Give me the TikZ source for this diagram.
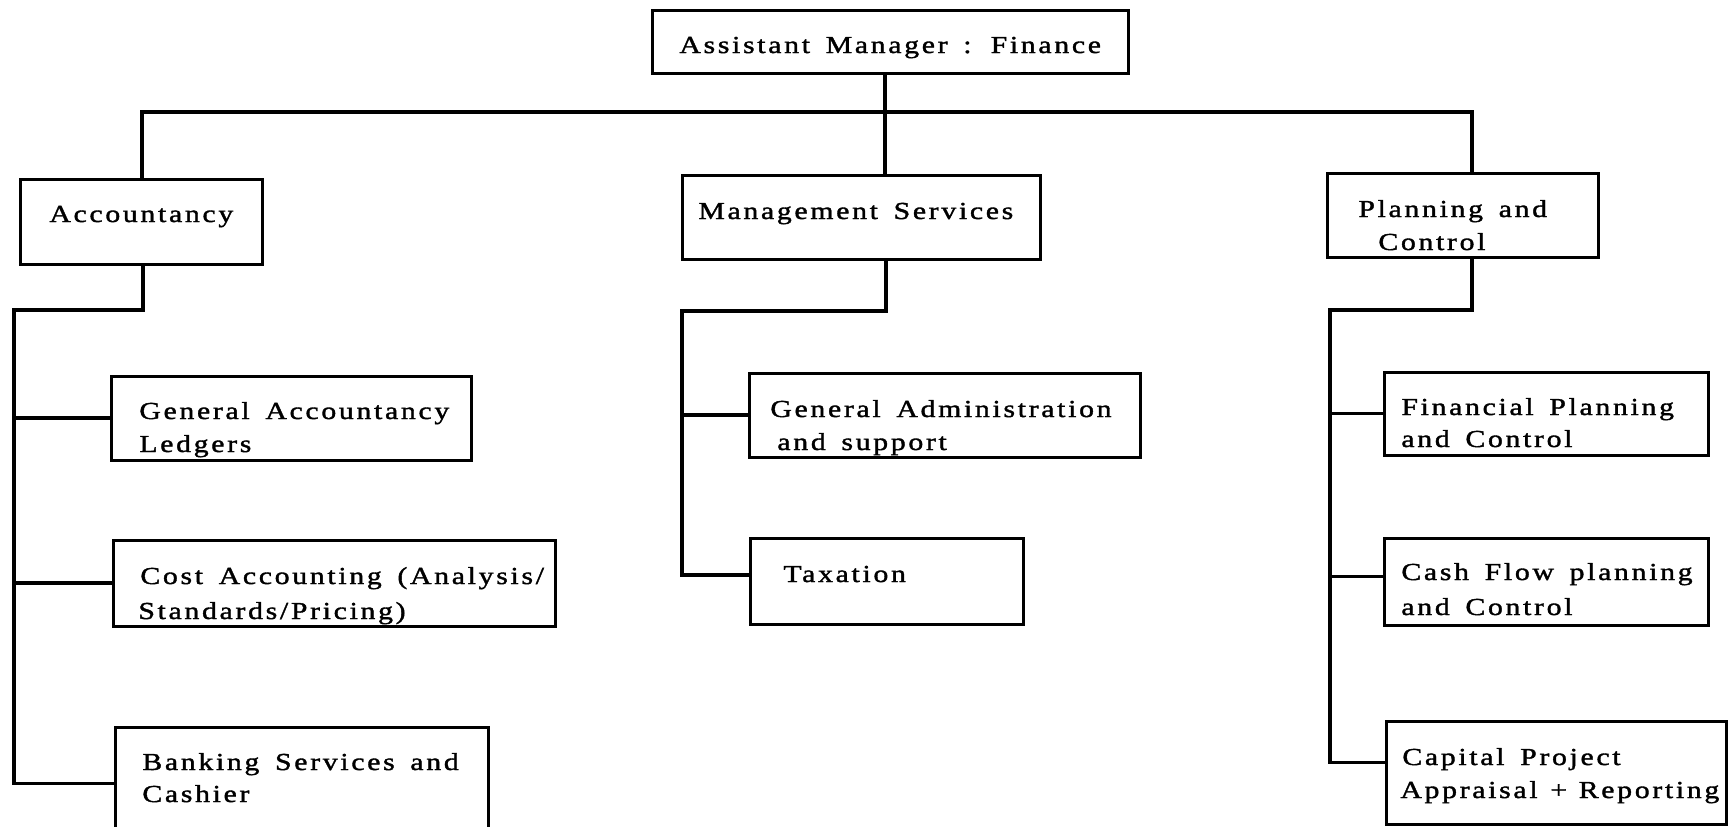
\documentclass[tikz,border=0pt]{standalone}
\usepackage{fontspec}
\setmainfont{Liberation Serif}[FakeStretch=1.22, LetterSpace=11, WordSpace=1.55, FakeBold=1.5]
\usetikzlibrary{calc}

\tikzset{
  box/.style={draw, line width=1.5pt, inner sep=0pt, rectangle},
  link/.style={line width=1.7pt, line join=miter},
  txt/.style={inner sep=0pt, anchor=base west, font=\fontsize{12.2pt}{16pt}\selectfont},
}

% box spanning pixel corners (x1,y1)-(x2,y2)
\newcommand\orgbox[5]{%
  \node[box, minimum width={(#4-#2)*0.5pt}, minimum height={(#5-#3)*0.5pt}]
    (#1) at ({(#2+#4)/2},{(#3+#5)/2}) {};}

\begin{document}
\begin{tikzpicture}[x=0.5pt, y=-0.5pt]
\useasboundingbox (0,0) rectangle (1731,826);
\clip (0,0) rectangle (1731,826);

% boxes
\orgbox{mgr}{652}{10}{1128}{73}
\orgbox{acc}{20}{179}{262}{264}
\orgbox{mgs}{682}{175}{1040}{259}
\orgbox{pac}{1327}{173}{1598}{257}
\orgbox{gal}{111}{376}{471}{460}
\orgbox{cost}{113}{540}{555}{626}
\orgbox{ban}{115}{727}{488}{840}
\orgbox{gad}{749}{373}{1140}{457}
\orgbox{tax}{750}{538}{1023}{624}
\orgbox{fpc}{1384}{372}{1708}{455}
\orgbox{cfp}{1384}{538}{1708}{625}
\orgbox{cap}{1386}{721}{1726}{824}

% labels
\node[txt] (mgrT) at (679,53) {Assistant Manager : Finance};
\node[txt] (accT) at (49,222) {Accountancy};
\node[txt] (mgsT) at (698,219) {Management Services};
\node[txt] (pacT1) at (1358,217) {Planning and};
\node[txt] (pacT2) at (1378,250) {Control};
\node[txt] (galT1) at (139,419) {General Accountancy};
\node[txt] (galT2) at (139,452) {Ledgers};
\node[txt] (costT1) at (140,584) {Cost Accounting (Analysis/};
\node[txt] (costT2) at (138,619) {Standards/Pricing)};
\node[txt] (banT1) at (142,770) {Banking Services and};
\node[txt] (banT2) at (142,802) {Cashier};
\node[txt] (gadT1) at (770,417) {General Administration};
\node[txt] (gadT2) at (777,450) {and support};
\node[txt] (taxT) at (783,582) {Taxation};
\node[txt] (fpcT1) at (1401,415) {Financial Planning};
\node[txt] (fpcT2) at (1401,447) {and Control};
\node[txt] (cfpT1) at (1401,580) {Cash Flow planning};
\node[txt] (cfpT2) at (1401,615) {and Control};
\node[txt] (capT1) at (1402,765) {Capital Project};
\node[txt] (capT2) at (1400,798) {Appraisal\hspace{-1.5pt} +\hspace{-2pt} Reporting};

% junction points
\coordinate (busL) at (142,112);
\coordinate (busR) at (1472,112);
\coordinate (busM) at (885,112);
\coordinate (accJ) at (143,310);
\coordinate (accV) at (14,310);
\coordinate (mgsJ) at (886,311);
\coordinate (mgsV) at (682,311);
\coordinate (pacJ) at (1472,310);
\coordinate (pacV) at (1330,310);

% top level
\draw[link] (mgr.south -| busM) -- (busM |- mgs.north);
\draw[link] (acc.north -| busL) -- (busL) -- (busR) -- (busR |- pac.north);

% accountancy branch
\draw[link] (acc.south -| accJ) -- (accJ) -- (accV) -- (accV |- ban.west) -- (ban.west);
\draw[link] (accV |- gal.west) -- (gal.west);
\draw[link] (accV |- cost.west) -- (cost.west);

% management services branch
\draw[link] (mgs.south -| mgsJ) -- (mgsJ) -- (mgsV) -- ($(mgsV |- tax.west)+(0,-6)$) -- ($(tax.west)+(0,-6)$);
\draw[link] (mgsV |- gad.west) -- (gad.west);

% planning and control branch
\draw[link] (pac.south -| pacJ) -- (pacJ) -- (pacV) -- ($(pacV |- cap.west)+(0,-10)$) -- ($(cap.west)+(0,-10)$);
\draw[link] (pacV |- fpc.west) -- (fpc.west);
\draw[link] ($(pacV |- cfp.west)+(0,-5)$) -- ($(cfp.west)+(0,-5)$);
\end{tikzpicture}
\end{document}
